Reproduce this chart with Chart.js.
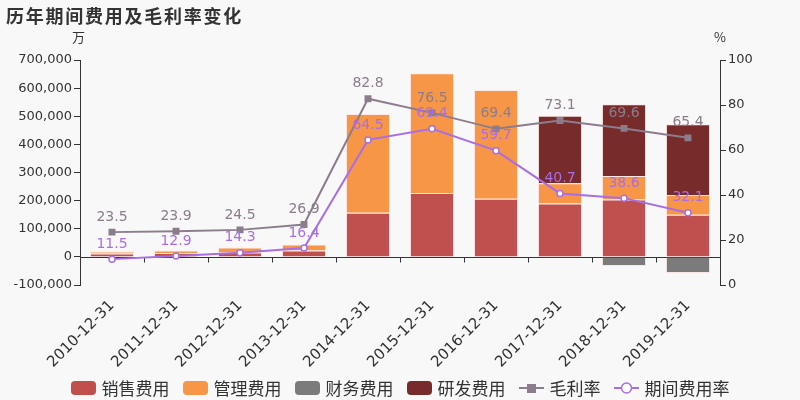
<!DOCTYPE html>
<html>
<head>
<meta charset="utf-8">
<script src="https://cdn.jsdelivr.net/npm/chart.js@4/dist/chart.umd.min.js"></script>
<style>
  body { margin: 0; background: #f8f8f8; }
  #wrap { position: relative; width: 800px; height: 400px; background: #f8f8f8; }
  #title { position: absolute; left: 6px; top: 2px; font: bold 18px "Noto Sans CJK SC", sans-serif; letter-spacing: 1.75px; color: #333; }
  .unit { position: absolute; top: 27px; font: 13px "Noto Sans CJK SC", "DejaVu Sans", sans-serif; color: #333; }
  #legend { position: absolute; left: 0; top: 375px; width: 800px; display: flex; justify-content: center; gap: 13px; font: 17px "Noto Sans CJK SC", sans-serif; color: #333; }
  #legend .item { display: flex; align-items: center; }
  #legend .sw { width: 25px; height: 14px; border-radius: 4px; margin-right: 6px; }
  #legend canvas { margin-right: 6px; }
</style>
</head>
<body>
<div id="wrap">
  <canvas id="chart" width="800" height="400"></canvas>
  <div id="title">历年期间费用及毛利率变化</div>
  <div class="unit" style="left:72px">万</div>
  <div class="unit" style="left:714px">%</div>
  <div id="legend"></div>
</div>
<script>
// data
const categories = ['2010-12-31', '2011-12-31', '2012-12-31', '2013-12-31', '2014-12-31',
                    '2015-12-31', '2016-12-31', '2017-12-31', '2018-12-31', '2019-12-31'];
const salesCost = [12000, 14000, 16000, 23000, 157000, 227000, 207000, 190000, 204000, 150000];
const adminCost = [7000, 9000, 17000, 21000, 351000, 426000, 386000, 72000, 84000, 70000];
const financeCost = [0, 0, 0, 0, 0, 0, 0, -3000, -32000, -57000];
const rdCost = [0, 0, 0, 0, 0, 0, 0, 240000, 255000, 252000];
const grossMargin = [23.5, 23.9, 24.5, 26.9, 82.8, 76.5, 69.4, 73.1, 69.6, 65.4];
const expenseRate = [11.5, 12.9, 14.3, 16.4, 64.5, 69.4, 59.7, 40.7, 38.6, 32.1];
const leftTicks = { min: -100000, max: 700000, step: 100000 };
const rightTicks = { min: 0, max: 100, step: 20 };

const colors = {
  sales: '#c0504d', admin: '#f79646', finance: '#7b7b7b', rd: '#772b2b',
  margin: '#8b7d8b', rate: '#a86ee6'
};
const axisColor = '#333';
const tickFont = { family: 'DejaVu Sans', size: 13 };

// zero line with tick marks between categories
const zeroLine = {
  id: 'zeroLine',
  beforeDatasetsDraw(chart) {
    const x = chart.scales.x, y = chart.scales.y, ctx = chart.ctx;
    const y0 = Math.round(y.getPixelForValue(0)) + 0.5;
    ctx.save();
    ctx.strokeStyle = axisColor;
    ctx.lineWidth = 1;
    ctx.beginPath();
    ctx.moveTo(x.left, y0);
    ctx.lineTo(x.right, y0);
    for (let i = 1; i < categories.length; i++) {
      const px = Math.round((x.getPixelForValue(i - 1) + x.getPixelForValue(i)) / 2) + 0.5;
      ctx.moveTo(px, y0);
      ctx.lineTo(px, y0 + 5);
    }
    ctx.stroke();
    ctx.restore();
  }
};

// value labels above line points
const lineLabels = {
  id: 'lineLabels',
  afterDatasetsDraw(chart) {
    const ctx = chart.ctx;
    chart.data.datasets.forEach((ds, i) => {
      if (ds.type !== 'line') return;
      const meta = chart.getDatasetMeta(i);
      ctx.save();
      ctx.font = '14px "DejaVu Sans"';
      ctx.fillStyle = ds.labelColor;
      ctx.textAlign = 'center';
      ctx.textBaseline = 'middle';
      meta.data.forEach((pt, j) => {
        ctx.fillText(ds.data[j].toFixed(1), pt.x, pt.y - 15);
      });
      ctx.restore();
    });
  }
};

const barCommon = {
  type: 'bar',
  yAxisID: 'y',
  borderWidth: 1,
  borderColor: 'rgba(255,220,220,0.6)',
  barPercentage: 0.69,
  categoryPercentage: 1,
  order: 2
};

new Chart(document.getElementById('chart'), {
  data: {
    labels: categories,
    datasets: [
      { ...barCommon, label: '销售费用', data: salesCost, backgroundColor: colors.sales },
      { ...barCommon, label: '管理费用', data: adminCost, backgroundColor: colors.admin },
      { ...barCommon, label: '财务费用', data: financeCost, backgroundColor: colors.finance },
      { ...barCommon, label: '研发费用', data: rdCost, backgroundColor: colors.rd },
      {
        type: 'line', label: '毛利率', data: grossMargin, yAxisID: 'y1', order: 0,
        borderColor: colors.margin, borderWidth: 2, tension: 0,
        pointStyle: 'rect', pointRadius: 3.5, pointBackgroundColor: colors.margin,
        pointBorderColor: colors.margin, labelColor: colors.margin
      },
      {
        type: 'line', label: '期间费用率', data: expenseRate, yAxisID: 'y1', order: 0,
        borderColor: colors.rate, borderWidth: 2, tension: 0,
        pointStyle: 'circle', pointRadius: 3, pointBackgroundColor: '#fff',
        pointBorderColor: colors.rate, pointBorderWidth: 1.5, labelColor: colors.rate
      }
    ]
  },
  options: {
    responsive: false,
    animation: false,
    layout: { padding: { top: 60, left: 0, right: 0, bottom: 0 } },
    plugins: { legend: { display: false }, title: { display: false }, tooltip: { enabled: false } },
    scales: {
      x: {
        stacked: true,
        grid: { display: false },
        border: { display: false },
        ticks: { color: axisColor, font: { family: 'DejaVu Sans', size: 15 }, minRotation: 45, maxRotation: 45, autoSkip: false, padding: 4 },
        afterFit(s) { s.height = 115; }
      },
      y: {
        stacked: true,
        position: 'left',
        min: leftTicks.min, max: leftTicks.max,
        grid: { drawOnChartArea: false, tickLength: 6, tickColor: axisColor, color: axisColor },
        border: { color: axisColor },
        ticks: {
          stepSize: leftTicks.step, color: axisColor, font: tickFont, padding: 2,
          callback: v => v.toLocaleString('en-US')
        },
        afterFit(s) { s.width = 80; }
      },
      y1: {
        position: 'right',
        min: rightTicks.min, max: rightTicks.max,
        grid: { drawOnChartArea: false, tickLength: 6, tickColor: axisColor, color: axisColor },
        border: { color: axisColor },
        ticks: { stepSize: rightTicks.step, color: axisColor, font: tickFont, padding: 2 },
        afterFit(s) { s.width = 80; }
      }
    }
  },
  plugins: [zeroLine, lineLabels]
});

// legend
const legend = document.getElementById('legend');
function lineIcon(color, square) {
  const c = document.createElement('canvas');
  c.width = 25; c.height = 14;
  const g = c.getContext('2d');
  g.strokeStyle = color; g.lineWidth = 2;
  g.beginPath(); g.moveTo(0, 7); g.lineTo(25, 7); g.stroke();
  if (square) {
    g.fillStyle = color; g.fillRect(8, 3, 9, 9);
  } else {
    g.fillStyle = '#fff'; g.lineWidth = 1.5;
    g.beginPath(); g.arc(12.5, 7, 5, 0, Math.PI * 2); g.fill(); g.stroke();
  }
  return c;
}
[['销售费用', colors.sales], ['管理费用', colors.admin], ['财务费用', colors.finance], ['研发费用', colors.rd]].forEach(([t, c]) => {
  const it = document.createElement('div'); it.className = 'item';
  const sw = document.createElement('div'); sw.className = 'sw'; sw.style.background = c;
  it.appendChild(sw); it.appendChild(document.createTextNode(t)); legend.appendChild(it);
});
[['毛利率', colors.margin, true], ['期间费用率', colors.rate, false]].forEach(([t, c, sq]) => {
  const it = document.createElement('div'); it.className = 'item';
  it.appendChild(lineIcon(c, sq)); it.appendChild(document.createTextNode(t)); legend.appendChild(it);
});
</script>
</body>
</html>
